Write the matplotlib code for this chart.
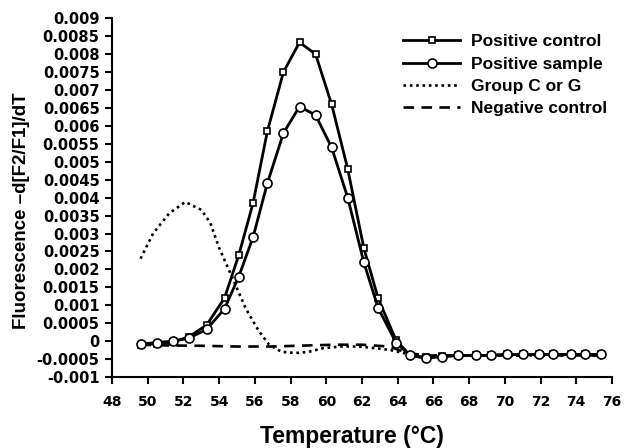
import matplotlib
matplotlib.use("Agg")
import matplotlib.pyplot as plt

plt.rcParams['font.family'] = ['Liberation Sans', 'DejaVu Sans']
plt.rcParams['font.weight'] = 'bold'

# ---- data ----
temps = [49.6, 50.5, 51.4, 52.3, 53.3, 54.3, 55.1, 55.9, 56.7, 57.6, 58.5, 59.4,
         60.3, 61.2, 62.1, 62.9, 63.9, 64.7, 65.6, 66.5, 67.4, 68.4, 69.2, 70.1,
         71.0, 71.9, 72.7, 73.7, 74.5, 75.4]
pos_control = [-0.0001, -0.00007, -0.00003, 0.00012, 0.00045, 0.0012, 0.0024, 0.00385,
               0.00585, 0.0075, 0.00833, 0.0080, 0.0066, 0.0048, 0.0026, 0.0012, 0.00003,
               -0.0004, -0.00045, -0.00042, -0.0004, -0.0004, -0.0004, -0.00037, -0.00037,
               -0.00037, -0.00037, -0.00037, -0.00037, -0.00037]
pos_sample = [-0.00008, -0.00004, 0.0, 0.00008, 0.00033, 0.0009, 0.0018, 0.0029, 0.0044,
              0.0058, 0.00654, 0.0063, 0.0054, 0.0040, 0.0022, 0.00093, -0.00004, -0.0004,
              -0.00048, -0.00043, -0.0004, -0.0004, -0.0004, -0.00037, -0.00037, -0.00037,
              -0.00037, -0.00037, -0.00037, -0.00037]
group_t = [49.6, 50.3, 51.2, 52.1, 53.0, 53.5, 54.0, 54.8, 55.5, 56.2, 56.8, 57.5, 58.3,
           59.0, 59.8, 60.8, 61.8, 62.8, 63.6, 64.5, 65.5, 67.0, 69.0, 71.0, 73.0, 75.4]
group_cg = [0.0023, 0.0030, 0.00356, 0.00388, 0.00366, 0.0033, 0.0026, 0.0017, 0.0009,
            0.0003, -0.0001, -0.0003, -0.00033, -0.0003, -0.0002, -0.00015, -0.00015,
            -0.0002, -0.00025, -0.00035, -0.0004, -0.0004, -0.0004, -0.0004, -0.0004, -0.0004]
neg_t = [49.6, 51.0, 53.0, 55.0, 57.0, 59.0, 60.5, 62.0, 63.5, 64.5, 65.5, 67.0, 69.0,
         71.0, 73.0, 75.4]
neg_control = [-0.0001, -0.00012, -0.00013, -0.00015, -0.00015, -0.00012, -0.0001, -0.0001,
               -0.00015, -0.00032, -0.0004, -0.0004, -0.0004, -0.0004, -0.0004, -0.0004]

xticks = list(range(48, 77, 2))
yticks = [-0.001, -0.0005, 0, 0.0005, 0.001, 0.0015, 0.002, 0.0025, 0.003, 0.0035, 0.004,
          0.0045, 0.005, 0.0055, 0.006, 0.0065, 0.007, 0.0075, 0.008, 0.0085, 0.009]
ytick_labels = ['-0.001', '-0.0005', '0', '0.0005', '0.001', '0.0015', '0.002', '0.0025',
                '0.003', '0.0035', '0.004', '0.0045', '0.005', '0.0055', '0.006', '0.0065',
                '0.007', '0.0075', '0.008', '0.0085', '0.009']

W, H = 631, 448
fig = plt.figure(figsize=(6.31, 4.48), dpi=100)
ax = fig.add_axes([112 / W, 1 - 377 / H, 500 / W, (377 - 18.3) / H])

ax.plot(neg_t, neg_control, color='black', lw=1.9, dashes=(4, 2.8), label='Negative control', zorder=2)
ax.plot(group_t, group_cg, color='black', lw=1.9, dashes=(1, 1.4), label='Group C or G', zorder=2)
ax.plot(temps, pos_control, color='black', lw=2, marker='s', ms=5, mfc='white', mec='black',
        mew=1.2, label='Positive control', zorder=3)
ax.plot(temps, pos_sample, color='black', lw=2, marker='o', ms=6.5, mfc='white', mec='black',
        mew=1.2, label='Positive sample', zorder=4)

ax.set_xlim(48, 76)
ax.set_ylim(-0.001, 0.009)
ax.set_xticks(xticks)
ax.set_xticklabels([str(t) for t in xticks], family=['DejaVu Sans'], fontweight='bold', fontsize=10)
ax.set_yticks(yticks)
ax.set_yticklabels(ytick_labels, family=['DejaVu Sans'], fontweight='bold', fontsize=10.5)
ax.tick_params(axis='both', direction='out', length=5, width=1.5)
ax.tick_params(axis='x', pad=8)
ax.tick_params(axis='y', pad=4)
for s in ['top', 'right']:
    ax.spines[s].set_visible(False)
for s in ['left', 'bottom']:
    ax.spines[s].set_linewidth(1.5)

fig.text(352 / W, 1 - 436 / H, 'Temperature (°C)', fontsize=16.5, fontweight='bold',
         ha='center', va='center')
fig.text(22 / W, 1 - 211 / H, 'Fluorescence –d[F2/F1]/dT', fontsize=13.5, fontweight='bold',
         ha='center', va='center', rotation=90)

handles, labels = ax.get_legend_handles_labels()
order = [2, 3, 1, 0]
leg = fig.legend([handles[i] for i in order], [labels[i] for i in order], loc='upper left',
                 bbox_to_anchor=(403 / W, 1 - 34 / H), frameon=False, fontsize=12.5,
                 handlelength=3.3, numpoints=1, labelspacing=0.42, handletextpad=0.6,
                 borderpad=0, borderaxespad=0)

fig.savefig('out.png', dpi=100)
